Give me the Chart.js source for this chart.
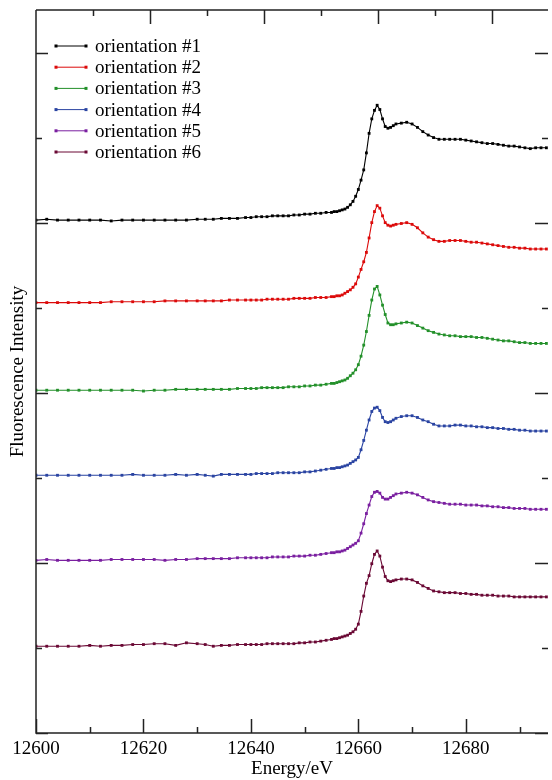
<!DOCTYPE html>
<html>
<head>
<meta charset="utf-8">
<script src="https://cdn.jsdelivr.net/npm/chart.js@4.4.1/dist/chart.umd.min.js"></script>
<style>
html, body { margin: 0; padding: 0; background: #fff; overflow: hidden; }
</style>
</head>
<body>
<canvas id="xanes_chart" width="552" height="780"></canvas>
<script>
// Energy grid (eV), same for every orientation
var energy = [
    12600, 12602, 12604, 12606, 12608, 12610, 12612, 12614, 12616, 12618, 12620, 12622, 12624, 12626, 12628,
    12630, 12631.5, 12633, 12634.5, 12636, 12637.5, 12639,
    12640, 12641, 12642, 12643, 12644, 12645, 12646, 12647, 12648, 12649, 12650, 12651, 12652, 12653, 12654, 12655,
    12655.5, 12656, 12656.5, 12657, 12657.5, 12658, 12658.5, 12659, 12659.5, 12660, 12660.5, 12661,
    12661.5, 12662, 12662.5, 12663, 12663.5, 12664, 12664.5, 12665, 12665.5, 12666, 12666.5, 12667,
    12668, 12669, 12670, 12671, 12672, 12673, 12674, 12675, 12676, 12677, 12678, 12679, 12680, 12681,
    12682, 12683, 12684, 12685, 12686, 12687, 12688, 12689, 12690, 12691, 12692, 12693, 12694, 12695
];

// Fluorescence intensity as plotted (stacked, arbitrary units)
var orient1 = [
    6.03, 6.04, 6.03, 6.03, 6.03, 6.03, 6.03, 6.02, 6.03, 6.03, 6.03, 6.03, 6.03, 6.03, 6.03,
    6.04, 6.04, 6.04, 6.05, 6.05, 6.05, 6.06,
    6.06, 6.07, 6.07, 6.07, 6.08, 6.08, 6.08, 6.08, 6.09, 6.09, 6.10, 6.10, 6.11, 6.11, 6.12, 6.12,
    6.13, 6.13, 6.14, 6.15, 6.16, 6.18, 6.21, 6.25, 6.31, 6.39, 6.50, 6.62,
    6.82, 7.05, 7.22, 7.32, 7.38, 7.33, 7.22, 7.13, 7.11, 7.12, 7.14, 7.16,
    7.17, 7.18, 7.16, 7.12, 7.07, 7.03, 7.00, 6.98, 6.98, 6.98, 6.98, 6.98, 6.97, 6.96,
    6.95, 6.94, 6.93, 6.93, 6.92, 6.91, 6.90, 6.90, 6.89, 6.88, 6.87, 6.88, 6.88, 6.88
];
var orient2 = [
    5.06, 5.06, 5.06, 5.06, 5.06, 5.06, 5.06, 5.07, 5.07, 5.07, 5.07, 5.07, 5.08, 5.08, 5.08,
    5.08, 5.08, 5.08, 5.08, 5.09, 5.09, 5.09,
    5.09, 5.09, 5.09, 5.10, 5.10, 5.10, 5.10, 5.10, 5.11, 5.11, 5.11, 5.11, 5.12, 5.12, 5.12, 5.13,
    5.13, 5.14, 5.14, 5.15, 5.17, 5.19, 5.21, 5.24, 5.28, 5.36, 5.45, 5.54,
    5.65, 5.82, 6.00, 6.13, 6.20, 6.17, 6.08, 6.00, 5.97, 5.96, 5.97, 5.98,
    5.99, 6.00, 5.98, 5.94, 5.88, 5.83, 5.80, 5.78, 5.78, 5.79, 5.79, 5.79, 5.78, 5.77,
    5.77, 5.76, 5.75, 5.74, 5.73, 5.72, 5.71, 5.71, 5.70, 5.70, 5.69, 5.69, 5.69, 5.69
];
var orient3 = [
    4.03, 4.03, 4.03, 4.03, 4.03, 4.03, 4.03, 4.03, 4.03, 4.03, 4.02, 4.03, 4.03, 4.04, 4.04,
    4.04, 4.04, 4.04, 4.04, 4.04, 4.05, 4.05,
    4.05, 4.05, 4.06, 4.06, 4.06, 4.06, 4.06, 4.07, 4.07, 4.07, 4.08, 4.08, 4.09, 4.09, 4.10, 4.11,
    4.11, 4.12, 4.13, 4.14, 4.15, 4.17, 4.20, 4.23, 4.27, 4.33, 4.43, 4.56,
    4.72, 4.91, 5.09, 5.22, 5.25, 5.15, 5.03, 4.92, 4.82, 4.80, 4.80, 4.81,
    4.82, 4.83, 4.82, 4.79, 4.76, 4.73, 4.71, 4.69, 4.68, 4.67, 4.67, 4.66, 4.66, 4.66,
    4.65, 4.65, 4.64, 4.63, 4.62, 4.61, 4.61, 4.60, 4.59, 4.59, 4.58, 4.58, 4.58, 4.58
];
var orient4 = [
    3.03, 3.03, 3.03, 3.03, 3.03, 3.03, 3.03, 3.03, 3.03, 3.04, 3.03, 3.03, 3.03, 3.04, 3.03,
    3.04, 3.03, 3.02, 3.04, 3.04, 3.04, 3.04,
    3.04, 3.05, 3.05, 3.05, 3.05, 3.06, 3.06, 3.06, 3.06, 3.06, 3.07, 3.07, 3.08, 3.09, 3.10, 3.11,
    3.11, 3.12, 3.12, 3.13, 3.14, 3.15, 3.17, 3.19, 3.21, 3.24, 3.33, 3.44,
    3.56, 3.68, 3.78, 3.82, 3.83, 3.79, 3.71, 3.66, 3.65, 3.66, 3.68, 3.70,
    3.72, 3.73, 3.73, 3.71, 3.68, 3.66, 3.63, 3.61, 3.61, 3.61, 3.62, 3.62, 3.61, 3.61,
    3.60, 3.60, 3.59, 3.59, 3.58, 3.58, 3.57, 3.57, 3.56, 3.56, 3.55, 3.55, 3.55, 3.55
];
var orient5 = [
    2.03, 2.04, 2.03, 2.03, 2.03, 2.03, 2.03, 2.04, 2.04, 2.04, 2.04, 2.04, 2.03, 2.04, 2.04,
    2.05, 2.05, 2.05, 2.05, 2.05, 2.06, 2.06,
    2.06, 2.06, 2.06, 2.06, 2.07, 2.07, 2.07, 2.07, 2.08, 2.08, 2.08, 2.09, 2.09, 2.10, 2.11, 2.12,
    2.12, 2.13, 2.13, 2.14, 2.15, 2.17, 2.19, 2.21, 2.23, 2.26, 2.35, 2.46,
    2.58, 2.68, 2.78, 2.83, 2.84, 2.82, 2.77, 2.75, 2.75, 2.77, 2.79, 2.81,
    2.82, 2.83, 2.82, 2.80, 2.77, 2.74, 2.72, 2.71, 2.70, 2.69, 2.69, 2.69, 2.68, 2.68,
    2.68, 2.67, 2.67, 2.66, 2.66, 2.65, 2.65, 2.64, 2.64, 2.64, 2.63, 2.63, 2.63, 2.63
];
var orient6 = [
    1.02, 1.02, 1.02, 1.02, 1.02, 1.03, 1.02, 1.03, 1.03, 1.04, 1.04, 1.05, 1.05, 1.03, 1.06,
    1.05, 1.04, 1.02, 1.03, 1.03, 1.04, 1.04,
    1.04, 1.04, 1.04, 1.05, 1.05, 1.05, 1.05, 1.05, 1.05, 1.06, 1.06, 1.07, 1.07, 1.08, 1.09, 1.10,
    1.11, 1.11, 1.12, 1.13, 1.14, 1.15, 1.17, 1.19, 1.22, 1.28, 1.43, 1.61,
    1.76, 1.85, 1.99, 2.10, 2.14, 2.08, 1.95, 1.84, 1.79, 1.78, 1.79, 1.80,
    1.81, 1.81, 1.80, 1.77, 1.73, 1.70, 1.67, 1.66, 1.65, 1.65, 1.65, 1.64, 1.64, 1.63,
    1.63, 1.62, 1.62, 1.62, 1.61, 1.61, 1.61, 1.60, 1.60, 1.60, 1.60, 1.60, 1.60, 1.60
];

var seriesLabels = ['orientation #1', 'orientation #2', 'orientation #3',
                    'orientation #4', 'orientation #5', 'orientation #6'];
var seriesValues = [orient1, orient2, orient3, orient4, orient5, orient6];
var seriesColors = ['#000000', '#dc0a0a', '#23902a', '#2a44a2', '#7a1fa0', '#6a0834'];

// top axis ticks do not line up with the bottom ones in the original
var topMajorTicks = [12621.3, 12642.5, 12663.7, 12684.9];
var topMinorTicks = [12610.7, 12631.9, 12653.1, 12674.3];

var serif = "'Liberation Serif', 'Times New Roman', serif";
Chart.defaults.font.family = serif;
Chart.defaults.font.size = 19;
Chart.defaults.color = '#000';

// Inward ticks, frame and the in-plot legend (xmgrace style)
var frameTicks = {
    id: 'frameTicks',
    afterDraw: function (chart) {
        var ctx = chart.ctx;
        var a = chart.chartArea;
        var xs = chart.scales.x, ys = chart.scales.y;

        ctx.save();
        ctx.strokeStyle = '#222';
        ctx.lineWidth = 1.5;
        ctx.beginPath();
        xs.ticks.forEach(function (t) {
            if (Math.abs(t.value % 10) > 1e-6) return;
            var len = Math.abs(t.value % 20) < 1e-6 ? 14 : 6;
            var px = Math.round(xs.getPixelForValue(t.value)) + 0.5;
            ctx.moveTo(px, a.bottom);
            ctx.lineTo(px, a.bottom - len);
        });
        topMajorTicks.concat(topMinorTicks).forEach(function (e, i) {
            var len = i < topMajorTicks.length ? 14 : 6;
            var px = Math.round(xs.getPixelForValue(e)) + 0.5;
            ctx.moveTo(px, a.top);
            ctx.lineTo(px, a.top + len);
        });
        ys.ticks.forEach(function (t) {
            var major = Math.round(t.value) % 2 === 0;
            var py = Math.round(ys.getPixelForValue(t.value)) + 0.5;
            ctx.moveTo(a.left, py);
            ctx.lineTo(a.left + (major ? 12 : 6), py);
            ctx.moveTo(a.right, py);
            ctx.lineTo(a.right - (major ? 13 : 6), py);
        });
        // frame: the right edge falls just outside the picture
        ctx.moveTo(a.left, a.top);
        ctx.lineTo(a.right, a.top);
        ctx.moveTo(a.left, a.top);
        ctx.lineTo(a.left, a.bottom);
        ctx.lineTo(a.right, a.bottom);
        ctx.stroke();

        // legend
        ctx.font = '19px ' + serif;
        ctx.textBaseline = 'middle';
        chart.data.datasets.forEach(function (ds, i) {
            var y = 46 + i * 21.2;
            ctx.strokeStyle = ds.borderColor;
            ctx.fillStyle = ds.borderColor;
            ctx.lineWidth = 1;
            ctx.beginPath();
            ctx.moveTo(56, y);
            ctx.lineTo(86, y);
            ctx.stroke();
            ctx.fillRect(54.5, y - 1.5, 3, 3);
            ctx.fillRect(84.5, y - 1.5, 3, 3);
            ctx.fillStyle = '#000';
            ctx.fillText(ds.label, 95, y + 1);
        });
        ctx.restore();
    }
};

var datasets = seriesValues.map(function (vals, i) {
    return {
        label: seriesLabels[i],
        data: energy.map(function (e, j) { return { x: e, y: vals[j] }; }),
        borderColor: seriesColors[i],
        backgroundColor: seriesColors[i],
        borderWidth: 1.1,
        pointStyle: 'rect',
        pointRadius: 2,
        pointBorderWidth: 0,
        tension: 0,
        fill: false
    };
});

var ctx = document.getElementById('xanes_chart').getContext('2d');
var xanesChart = new Chart(ctx, {
    type: 'line',
    data: { datasets: datasets },
    options: {
        responsive: false,
        animation: false,
        layout: { padding: { top: 10, right: 0, left: 0, bottom: 0 } },
        scales: {
            x: {
                type: 'linear',
                position: 'bottom',
                min: 12600,
                max: 12695.3,
                grid: { display: false, drawTicks: false },
                border: { display: false },
                ticks: {
                    stepSize: 10,
                    includeBounds: false,
                    autoSkip: false,
                    maxRotation: 0,
                    padding: 5,
                    callback: function (value) {
                        return value % 20 === 0 ? String(value) : '';
                    }
                },
                title: {
                    display: true,
                    text: 'Energy/eV',
                    font: { size: 19, lineHeight: 1 },
                    padding: { top: 0, bottom: 1 }
                },
                afterFit: function (scale) { scale.height = 47; }
            },
            y: {
                type: 'linear',
                min: 0,
                max: 8.5,
                grid: { display: false, drawTicks: false },
                border: { display: false },
                ticks: { display: false, stepSize: 1, includeBounds: false },
                title: {
                    display: true,
                    text: 'Fluorescence Intensity',
                    font: { size: 19, lineHeight: 1 },
                    padding: { top: 9, bottom: 0 }
                },
                afterFit: function (scale) { scale.width = 36; }
            }
        },
        plugins: {
            legend: { display: false },
            tooltip: { enabled: false }
        }
    },
    plugins: [frameTicks]
});
</script>
</body>
</html>
